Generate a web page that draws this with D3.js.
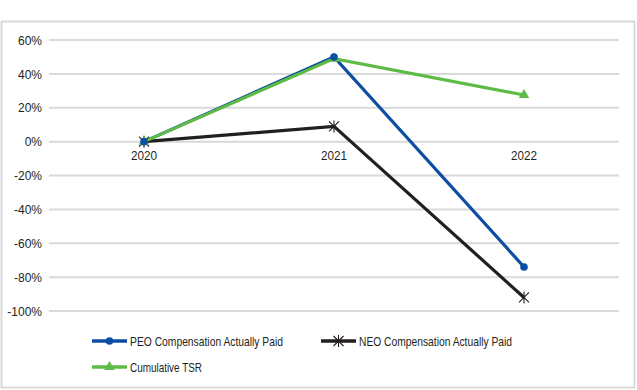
<!DOCTYPE html>
<html><head><meta charset="utf-8">
<script src="https://cdn.jsdelivr.net/npm/d3@7"></script>
<style>
body{margin:0;background:#fff;}
text{font-family:"Liberation Sans",Arial,sans-serif;fill:#231f20;}
</style></head>
<body><svg id="c" width="637" height="390"></svg>
<script>
const categories = ["2020","2021","2022"];
const peo = [0, 50, -74];
const neo = [0, 9, -92];
const tsr = [0, 49, 27.5];
const yTicks = [60,40,20,0,-20,-40,-60,-80,-100];
const seriesNames = ["PEO Compensation Actually Paid","NEO Compensation Actually Paid","Cumulative TSR"];
const colors = ["#0b4ea2","#231f20","#5dbb46"];

const svg = d3.select("#c");
svg.append("rect").attr("x",1.5).attr("y",21.5).attr("width",633).attr("height",366)
  .attr("fill","#fff").attr("stroke","#d9d9d9").attr("stroke-width",2);

const x = d3.scaleBand().domain(categories).range([49,619]);
const y = d3.scaleLinear().domain([-100,60]).range([311,40]);

svg.append("g").selectAll("line").data(yTicks).join("line")
  .attr("x1",49).attr("x2",619).attr("y1",d=>y(d)).attr("y2",d=>y(d))
  .attr("stroke","#d9d9d9").attr("stroke-width",2);

const yAxis = d3.axisLeft(y).tickValues(yTicks).tickSize(0).tickPadding(7).tickFormat(d=>d+"%");
const gy = svg.append("g").attr("transform","translate(49,0)").call(yAxis);
gy.select(".domain").remove();
gy.selectAll("text").attr("font-size",12).attr("font-family",null).attr("dy","0.35em").attr("x",-7);

const xAxis = d3.axisBottom(x).tickSize(0).tickPadding(9);
const gx = svg.append("g").attr("transform",`translate(0,${y(0)})`).call(xAxis);
gx.select(".domain").remove();
gx.selectAll("text").attr("font-size",13).attr("font-family",null)
  .attr("textLength",26).attr("lengthAdjust","spacingAndGlyphs");

const cx = c => x(c) + x.bandwidth()/2;
const data = [peo, neo, tsr];
const line = d3.line().x((d,i)=>cx(categories[i])).y(d=>y(d));

data.forEach((s,k)=>{
  svg.append("path").datum(s).attr("d",line).attr("fill","none")
    .attr("stroke",colors[k]).attr("stroke-width",3.2).attr("stroke-linejoin","miter");
});

function marker(g, k, px, py){
  if(k===0){
    g.append("circle").attr("cx",px).attr("cy",py).attr("r",3.8).attr("fill",colors[0]);
  } else if(k===1){
    const r=5;
    const p = d3.path();
    p.moveTo(px-r,py-r); p.lineTo(px+r,py+r);
    p.moveTo(px-r,py+r); p.lineTo(px+r,py-r);
    p.moveTo(px,py-r-1); p.lineTo(px,py+r+1);
    g.append("path").attr("d",p.toString()).attr("stroke",colors[1]).attr("stroke-width",1.1).attr("fill","none");
  } else {
    const t = d3.symbol().type(d3.symbolTriangle).size(48);
    g.append("path").attr("d",t()).attr("transform",`translate(${px},${py})`).attr("fill",colors[2]);
  }
}
const mg = svg.append("g");
[1,2,0].forEach(k=>{
  data[k].forEach((v,i)=>marker(mg,k,cx(categories[i]),y(v)));
});

const legendItems = [
  {k:0, x:92, y:341, w:153},
  {k:1, x:321, y:341, w:153},
  {k:2, x:92, y:367, w:72}
];
legendItems.forEach(it=>{
  const g = svg.append("g");
  g.append("line").attr("x1",it.x).attr("x2",it.x+35).attr("y1",it.y).attr("y2",it.y)
    .attr("stroke",colors[it.k]).attr("stroke-width",3.5);
  marker(g,it.k,it.x+17.5,it.y);
  g.append("text").attr("x",it.x+38).attr("y",it.y).attr("dy","0.35em")
    .attr("font-size",13).attr("textLength",it.w).attr("lengthAdjust","spacingAndGlyphs")
    .text(seriesNames[it.k]);
});
</script></body></html>
